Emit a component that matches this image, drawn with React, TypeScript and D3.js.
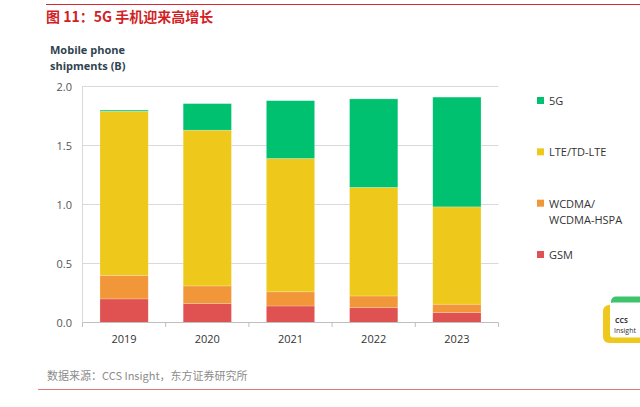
import * as d3 from "d3";

const years = ["2019", "2020", "2021", "2022", "2023"];
const gsm = [0.2, 0.16, 0.14, 0.125, 0.085];
const wcdma = [0.2, 0.15, 0.12, 0.1, 0.07];
const lte = [1.39, 1.32, 1.13, 0.92, 0.825];
const g5 = [0.01, 0.225, 0.49, 0.75, 0.93];
const yTicks = [0, 0.5, 1.0, 1.5, 2.0];

const seriesKeys = ["gsm", "wcdma", "lte", "g5"];
const seriesColors: Record<string, string> = {
  gsm: "#e05252",
  wcdma: "#f2963a",
  lte: "#eec91b",
  g5: "#00c170",
};
const legendItems = [
  { key: "g5", lines: ["5G"] },
  { key: "lte", lines: ["LTE/TD-LTE"] },
  { key: "wcdma", lines: ["WCDMA/", "WCDMA-HSPA"] },
  { key: "gsm", lines: ["GSM"] },
];

const W = 640;
const H = 407;
const font = "'Open Sans', 'Noto Sans', sans-serif";
const cjk = "'Noto Sans CJK SC', sans-serif";

export default function App() {
  const rows = years.map((y, i) => ({ year: y, gsm: gsm[i], wcdma: wcdma[i], lte: lte[i], g5: g5[i] }));
  const stack = d3.stack<any>().keys(seriesKeys)(rows);

  const x = d3.scaleBand().domain(years).range([82.5, 498.5]).paddingInner(0.42).paddingOuter(0.21);
  const y = d3.scaleLinear().domain([0, 2]).range([322.5, 86.5]);
  const bandStep = x.step();
  const tickXs = d3.range(years.length + 1).map((i) => 82.5 + i * bandStep);

  const legendY = d3.scalePoint().domain(legendItems.map((d) => d.key)).range([101, 255]);

  return (
    <svg width={W} height={H} style={{ position: "absolute", left: 0, top: 0 }}>
      <rect width={W} height={H} fill="#fff" />
      <line x1={46} x2={640} y1={4.5} y2={4.5} stroke="#d9262c" strokeWidth={1} />
      <text x={46} y={22} fontFamily={cjk} fontWeight="bold" fontSize={14} fill="#d21f26">
        图 11：5G 手机迎来高增长
      </text>

      <text fontFamily={font} fontWeight="bold" fontSize={11} fill="#2f4450">
        <tspan x={50} y={54}>Mobile phone</tspan>
        <tspan x={50} y={70}>shipments (B)</tspan>
      </text>

      {yTicks.map((t) => (
        <g key={t}>
          {t > 0 && <line x1={82.5} x2={498.5} y1={y(t)} y2={y(t)} stroke="#d9d9d9" strokeWidth={1} />}
          <text x={72} y={y(t) + 4} textAnchor="end" fontFamily={font} fontSize={11} fill="#555">
            {d3.format(".1f")(t)}
          </text>
        </g>
      ))}
      <line x1={82.5} x2={82.5} y1={86} y2={322.5} stroke="#d9d9d9" />

      {stack.map((s) => (
        <g key={s.key} fill={seriesColors[s.key]}>
          {s.map((d, i) => (
            <rect
              key={i}
              x={x(years[i])}
              width={x.bandwidth()}
              y={y(d[1])}
              height={Math.max(0, y(d[0]) - y(d[1]))}
              stroke="#fff"
              strokeOpacity={0.35}
              strokeWidth={0.6}
            />
          ))}
        </g>
      ))}

      <line x1={82.5} x2={498.5} y1={322.5} y2={322.5} stroke="#bfbfbf" />
      {tickXs.map((tx, i) => (
        <line key={i} x1={tx} x2={tx} y1={322.5} y2={327} stroke="#bfbfbf" />
      ))}
      {years.map((yr) => (
        <text
          key={yr}
          x={(x(yr) ?? 0) + x.bandwidth() / 2}
          y={343}
          textAnchor="middle"
          fontFamily={font}
          fontSize={11}
          fill="#333"
        >
          {yr}
        </text>
      ))}

      {legendItems.map((it) => {
        const ly = legendY(it.key) ?? 0;
        return (
          <g key={it.key}>
            <rect x={537} y={ly - 4} width={7} height={7} fill={seriesColors[it.key]} />
            <text fontFamily={font} fontSize={11} fill="#333">
              {it.lines.map((l, j) => (
                <tspan key={j} x={549} y={ly + 4 + j * 16}>
                  {l}
                </tspan>
              ))}
            </text>
          </g>
        );
      })}

      {/* CCS Insight logo, cut by the page edge */}
      <rect x={611} y={296.5} width={40} height={14} rx={5} fill="#3ec46d" />
      <rect x={603} y={305} width={48} height={38} rx={6} fill="#efc81e" />
      <rect x={610} y={302.5} width={40} height={35} rx={3} fill="#fff" />
      <text x={615} y={323} fontFamily={font} fontSize={7} fontWeight="bold" fill="#333">CCS</text>
      <text x={614} y={333} fontFamily={font} fontSize={7} fill="#333">Insight</text>

      <text x={47} y={380} fontFamily={cjk} fontSize={11} fill="#8c8c8c">
        数据来源：CCS Insight，东方证券研究所
      </text>
      <line x1={38} x2={640} y1={389.5} y2={389.5} stroke="#e07a7a" strokeWidth={1.2} />
    </svg>
  );
}
